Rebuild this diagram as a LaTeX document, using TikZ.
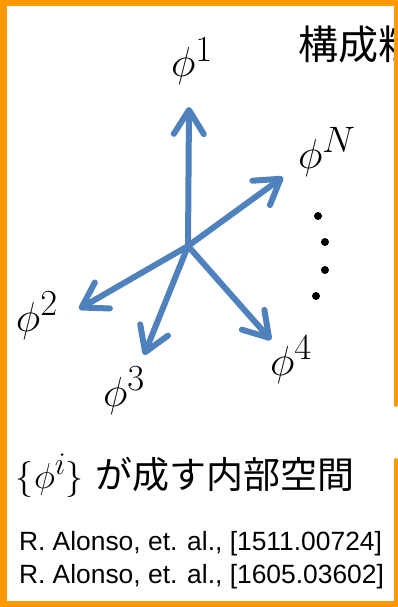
\RequirePackage{fix-cm}
\documentclass[tikz,border=0pt]{standalone}
\usepackage{fontspec}
\usepackage{amsmath}
\usepackage{graphicx}
\usepackage{tikz}
\usetikzlibrary{arrows.meta}
\newfontfamily\jpfont{Noto Sans CJK JP}
\newfontfamily\reffont{Liberation Sans}
\newcommand{\fld}[1]{\phi^{\scalebox{1.25}{$\scriptstyle #1$}}}
\definecolor{axisblue}{RGB}{79,129,189}
\definecolor{frameorange}{RGB}{255,153,0}

\begin{document}
\begin{tikzpicture}[
      x=1pt, y=-1pt,
      every node/.style={inner sep=0pt, outer sep=0pt},
      field/.style={anchor=base west, font=\fontsize{42}{48}\selectfont},
      axis/.style={draw=axisblue, line width=6pt, line cap=round,
                  -{Straight Barb[length=24pt, width=30pt, round]}},
      frame/.style={draw=frameorange},
      dot/.style={circle, fill=black, minimum size=8pt},
      title/.style={anchor=base west, font=\jpfont\fontsize{40}{46}\selectfont},
      citation/.style={anchor=base west, font=\reffont\fontsize{26.4}{30}\selectfont},
   ]
   \useasboundingbox (0,0) rectangle (398,607);

   \begin{scope}
      \clip (0,0) rectangle (394,607);
      \node[title] (head) at (298,60) {構成粒};
   \end{scope}

   \coordinate (o) at (188,246);
   \coordinate (t1) at (189,107);
   \coordinate (tN) at (283,177);
   \coordinate (t2) at (79,309);
   \coordinate (t3) at (144,355);
   \coordinate (t4) at (271,340);

   \draw[axis] (o) -- (t1);
   \draw[axis] (o) -- (tN);
   \draw[axis] (o) -- (t2);
   \draw[axis] (o) -- (t3);
   \draw[axis] (o) -- (t4);

   \node[field] (phi1) at (171,77) {$\fld{1}$};
   \node[field] (phiN) at (298,168) {$\fld{N}$};
   \node[field] (phi2) at (16,331) {$\fld{2}$};
   \node[field] (phi3) at (103,406) {$\fld{3}$};
   \node[field] (phi4) at (270,375) {$\fld{4}$};

   \node[dot] (dot1) at (318,216) {};
   \node[dot] (dot2) at (325,242) {};
   \node[dot] (dot3) at (325,270) {};
   \node[dot] (dot4) at (316,296) {};

   \node[anchor=base west] (space) at (16,488)
      {{\fontsize{36}{42}\selectfont$\{\fld{i}\}$}\hspace{12pt}{\jpfont\fontsize{37}{42}\selectfont が成す内部空間}};
   \node[citation] (ref1) at (19,550) {R. Alonso, et. al., [1511.00724]};
   \node[citation] (ref2) at (19,583) {R. Alonso, et. al., [1605.03602]};

   \draw[frame, line width=7pt] (3.5,0) -- (3.5,607);
   \draw[frame, line width=6pt] (0,3) -- (398,3);
   \draw[frame, line width=6pt] (0,603.5) -- (397,603.5);
   \draw[frame, line width=4pt, line cap=round] (396,0) -- (396,405);
   \draw[frame, line width=4pt, line cap=round] (396,460) -- (396,607);
\end{tikzpicture}
\end{document}
